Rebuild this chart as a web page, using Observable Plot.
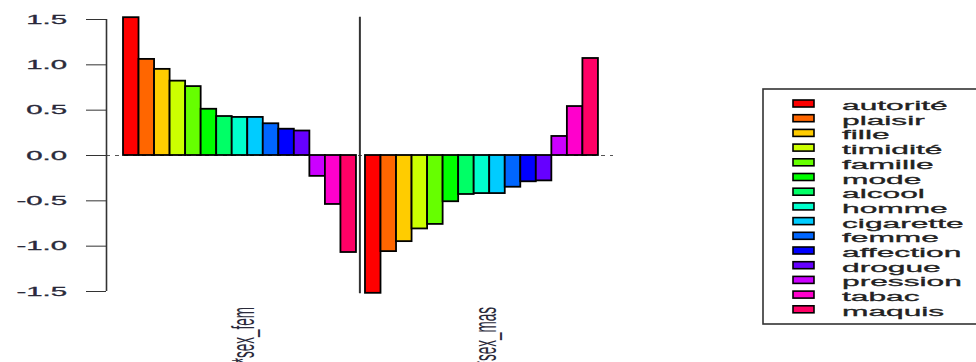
<!DOCTYPE html>
<html>
<head>
<meta charset="utf-8">
<script src="https://cdn.jsdelivr.net/npm/d3@7"></script>
<script src="https://cdn.jsdelivr.net/npm/@observablehq/plot@0.6"></script>
<style>
  body { margin: 0; background: #fff; }
  #wrap { position: relative; width: 976px; height: 362px; overflow: hidden; background: #fff; }
  #wrap svg { position: absolute; top: 0; left: 0; }
</style>
</head>
<body>
<div id="wrap"></div>
<script>
// ---- data ----
const categories = ["autorité","plaisir","fille","timidité","famille","mode","alcool","homme","cigarette","femme","affection","drogue","pression","tabac","maquis"];
const colors = ["#FF0000","#FF6600","#FFCC00","#CCFF00","#66FF00","#00FF00","#00FF66","#00FFCC","#00CCFF","#0066FF","#0000FF","#6600FF","#CC00FF","#FF00CC","#FF0066"];
const groups = ["*sex_fem","*sex_mas"];
const sexFem = [1.52, 1.06, 0.95, 0.82, 0.76, 0.51, 0.43, 0.42, 0.42, 0.35, 0.29, 0.27, -0.23, -0.54, -1.07];
const sexMas = [-1.52, -1.06, -0.95, -0.81, -0.76, -0.51, -0.43, -0.42, -0.42, -0.35, -0.29, -0.28, 0.21, 0.54, 1.07];
const yTicks = [-1.5, -1.0, -0.5, 0, 0.5, 1.0, 1.5];
const yTickLabels = ["-1.5","-1.0","-0.5","0.0","0.5","1.0","1.5"];

// ---- layout (in bar-width units) ----
const groupStride = 15.58;
const xDomain = [-1.095, 31.55];
const separatorPos = 15.22;
const stretch = 2.35;

const series = [sexFem, sexMas];
const data = groups.flatMap((g, gi) => categories.map((c, i) => ({
  group: g, cat: c, value: series[gi][i], pos: gi * groupStride + i
})));

const plot = Plot.plot({
  width: 976,
  height: 362,
  marginLeft: 106,
  marginRight: 363,
  marginTop: 19,
  marginBottom: 71,
  style: { background: "transparent", color: "#333", overflow: "visible" },
  x: { domain: xDomain, axis: null },
  y: { domain: [-1.5, 1.5], axis: null },
  color: { domain: categories, range: colors },
  marks: [
    Plot.ruleY([0], { stroke: "#555", strokeDasharray: "4,5", strokeWidth: 1 }),
    Plot.rect(data, { x1: "pos", x2: d => d.pos + 1, y1: () => 0, y2: "value", fill: "cat", stroke: "#000", strokeWidth: 1.8 }),
    Plot.ruleX([separatorPos], { y1: () => -1.525, y2: () => 1.525, stroke: "#333", strokeWidth: 2 }),
    Plot.ruleX([xDomain[0]], { y1: () => yTicks[0], y2: () => yTicks[yTicks.length - 1], stroke: "#333", strokeWidth: 1.6 }),
    Plot.axisY({ ticks: yTicks, tickSize: 20, tickFormat: () => "", label: null, stroke: "#333" })
  ]
});

const wrap = document.getElementById("wrap");
wrap.appendChild(plot);

const xs = plot.scale("x");
const ys = plot.scale("y");

const ov = d3.select(wrap).append("svg")
  .attr("width", 976).attr("height", 362)
  .style("font-family", "'Liberation Sans', Arial, sans-serif");

// y tick labels
ov.append("g").selectAll("text").data(yTicks).join("text")
  .attr("transform", d => `translate(67,${ys.apply(d)}) scale(${stretch},1)`)
  .attr("text-anchor", "end")
  .attr("dy", "0.36em")
  .attr("font-size", 12.5)
  .attr("fill", "#2a2a3a")
  .attr("stroke", "#2a2a3a").attr("stroke-width", 0.3)
  .text((d, i) => yTickLabels[i]);

// group labels (rotated)
ov.append("g").selectAll("text").data(groups).join("text")
  .attr("transform", (d, gi) => `translate(${xs.apply(gi * groupStride + 7.5) + 15},307) scale(${stretch},1) rotate(-90)`)
  .attr("text-anchor", "end")
  .attr("font-size", 13.5)
  .attr("fill", "#2a2a3a")
  .text(d => d);

// legend
const lg = ov.append("g");
lg.append("rect").attr("x", 763).attr("y", 89).attr("width", 240).attr("height", 235)
  .attr("fill", "none").attr("stroke", "#333").attr("stroke-width", 1.6);
const rowY = i => 103.5 + i * 14.7;
lg.selectAll("rect.sw").data(categories).join("rect").attr("class", "sw")
  .attr("x", 793).attr("y", (d, i) => rowY(i) - 3.5).attr("width", 21).attr("height", 7)
  .attr("fill", (d, i) => colors[i]).attr("stroke", "#000").attr("stroke-width", 1.6);
lg.selectAll("text").data(categories).join("text")
  .attr("transform", (d, i) => `translate(842,${rowY(i) + 6.5}) scale(${stretch},1)`)
  .attr("font-size", 13.5)
  .attr("fill", "#222")
  .attr("stroke", "#222").attr("stroke-width", 0.3)
  .text(d => d);
</script>
</body>
</html>
